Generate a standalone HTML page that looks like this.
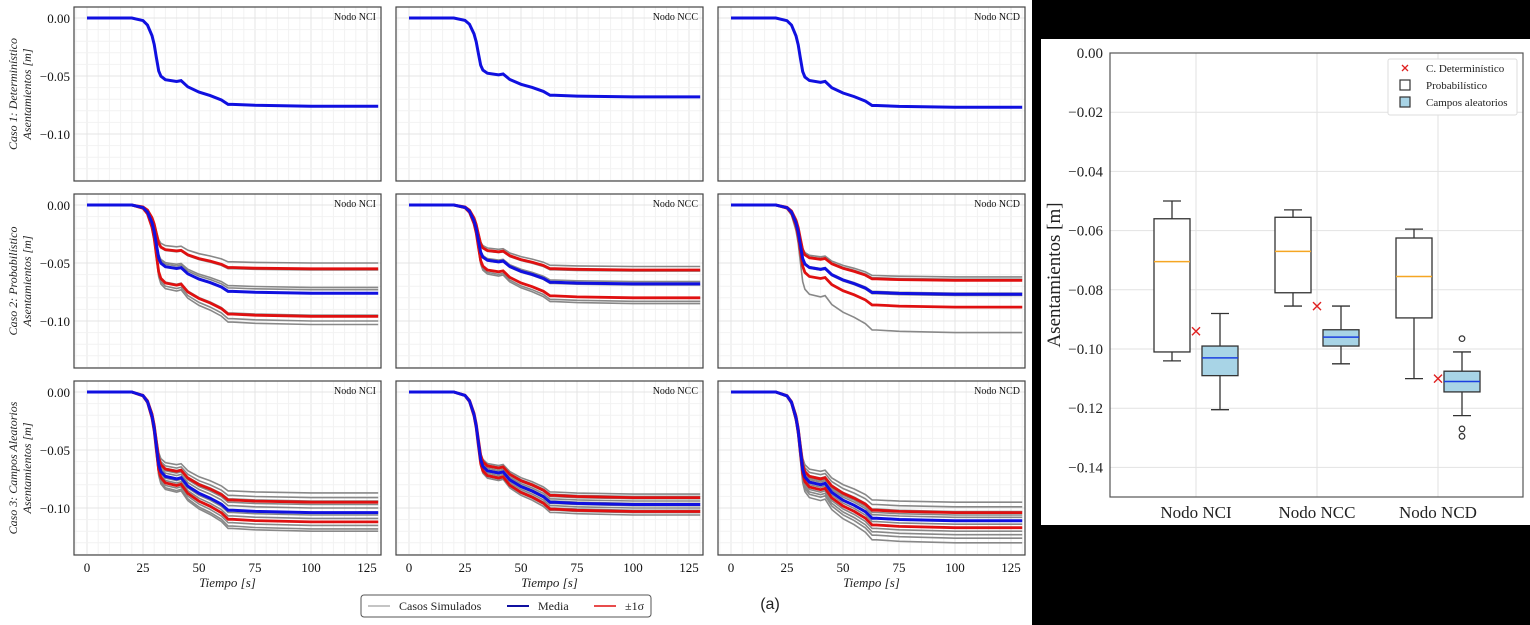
<!DOCTYPE html>
<html><head><meta charset="utf-8"><style>
body{margin:0;width:1530px;height:625px;overflow:hidden;background:#fff;font-family:"Liberation Serif",serif}
svg{position:absolute;left:0;top:0}
</style></head><body>
<svg id="fig" width="1530" height="625" viewBox="0 0 1530 625" xmlns="http://www.w3.org/2000/svg">
<rect x="1032" y="0" width="498" height="625" fill="#000"/>
<rect x="1041" y="39" width="489" height="486" fill="#fff"/>
</svg>
<script>
const NS="http://www.w3.org/2000/svg";
const svg=document.getElementById('fig');
function mk(tag,attrs,parent){const e=document.createElementNS(NS,tag);for(const k in attrs)e.setAttribute(k,attrs[k]);(parent||svg).appendChild(e);return e;}

// ---------- time series data ----------
const shapeT=[0,20,25,27,29,30,31,32,33,35,40,42,45,50,55,60,63,65,75,100,130];
const shapeF=[0,0,0.03,0.08,0.2,0.3,0.45,0.6,0.66,0.7,0.72,0.71,0.78,0.84,0.88,0.93,0.98,0.98,0.99,1,1];
const panelNames=[["NCI","NCC","NCD"],["NCI","NCC","NCD"],["NCI","NCC","NCD"]];
const meanFinal=[[-0.076,-0.068,-0.077],[-0.076,-0.068,-0.077],[-0.104,-0.097,-0.111]];
const sigUpFinal=[[null,null,null],[-0.055,-0.056,-0.065],[-0.095,-0.091,-0.104]];
const sigDnFinal=[[null,null,null],[-0.096,-0.080,-0.088],[-0.112,-0.103,-0.117]];
const greyFinals=[[[],[],[]],
 [[-0.050,-0.056,-0.071,-0.073,-0.095,-0.100,-0.103],[-0.053,-0.057,-0.066,-0.069,-0.080,-0.083,-0.085],[-0.062,-0.064,-0.076,-0.078,-0.088,-0.110]],
 [[-0.087,-0.091,-0.094,-0.097,-0.100,-0.104,-0.106,-0.109,-0.112,-0.115,-0.118,-0.120],[-0.088,-0.090,-0.092,-0.094,-0.096,-0.098,-0.100,-0.102,-0.104,-0.106],[-0.095,-0.099,-0.103,-0.106,-0.108,-0.111,-0.114,-0.117,-0.120,-0.123,-0.126,-0.130]]];
const xTicks=[0,25,50,75,100,125];
const yTicks=[0,-0.05,-0.10];
const yTickLabels=["0.00","−0.05","−0.10"];
const rowLabels=[["Caso 1: Determinístico","Asentamientos [m]"],["Caso 2: Probabilístico","Asentamientos [m]"],["Caso 3: Campos Aleatorios","Asentamientos [m]"]];

const colX=[74,396,718], rowY=[7,194,381], PW=307, PH=174;
function sx(c,t){return colX[c]+13+t*2.24;}
function sy(r,v){return rowY[r]+11+(-v)*1160;}

for(let r=0;r<3;r++){for(let c=0;c<3;c++){
  const g=mk('g',{});
  
  
  for(let t=-5;t<=135;t+=5){const x=sx(c,t);if(x<=colX[c]||x>=colX[c]+PW)continue;
    mk('line',{x1:x,x2:x,y1:rowY[r],y2:rowY[r]+PH,stroke:t%25==0?'#e4e4e4':'#f2f2f2','stroke-width':1},g);}
  for(let v=0.01;v>=-0.14;v-=0.01){const y=sy(r,v);if(y<=rowY[r]||y>=rowY[r]+PH)continue;
    mk('line',{x1:colX[c],x2:colX[c]+PW,y1:y,y2:y,stroke:Math.abs((v*100)%5)<0.01?'#e4e4e4':'#f2f2f2','stroke-width':1},g);}
  const pts=f=>shapeT.map((t,i)=>sx(c,t).toFixed(1)+','+sy(r,shapeF[i]*f).toFixed(1)).join(' ');
  greyFinals[r][c].forEach(f=>{const l=mk('polyline',{points:pts(f),fill:'none',stroke:'#888','stroke-width':1.6},g);
    });
  if(sigUpFinal[r][c]!==null){[sigUpFinal[r][c],sigDnFinal[r][c]].forEach(f=>{const l=mk('polyline',{points:pts(f),fill:'none',stroke:'#e01010','stroke-width':2.8},g);
    });}
  const m=mk('polyline',{points:pts(meanFinal[r][c]),fill:'none',stroke:'#1010e0','stroke-width':3},g);
  
  mk('rect',{x:colX[c],y:rowY[r],width:PW,height:PH,fill:'none',stroke:'#444','stroke-width':1.2},g);
  const tl=mk('text',{x:colX[c]+PW-5,y:rowY[r]+13,'text-anchor':'end','font-size':10,fill:'#111'},g);tl.textContent='Nodo '+panelNames[r][c];
  
  if(c==0){yTicks.forEach((v,i)=>{const t=mk('text',{x:colX[0]-4,y:sy(r,v)+5,'text-anchor':'end','font-size':13,fill:'#111'},g);t.textContent=yTickLabels[i];
    });
    const cy=rowY[r]+PH/2;
    const a=mk('text',{transform:`translate(17,${cy}) rotate(-90)`,'text-anchor':'middle','font-size':12,'font-style':'italic',fill:'#222'},g);a.textContent=rowLabels[r][0];
    
    const b=mk('text',{transform:`translate(31,${cy}) rotate(-90)`,'text-anchor':'middle','font-size':12,'font-style':'italic',fill:'#222'},g);b.textContent=rowLabels[r][1];
    }
  if(r==2){xTicks.forEach(t=>{const e=mk('text',{x:sx(c,t),y:rowY[r]+PH+17,'text-anchor':'middle','font-size':13,fill:'#111'},g);e.textContent=t;
    });
    const xt=mk('text',{x:colX[c]+PW/2,y:rowY[r]+PH+32,'text-anchor':'middle','font-size':13,'font-style':'italic',fill:'#222'},g);xt.textContent='Tiempo [s]';
    }
}}
const lg=mk('g',{});
mk('rect',{x:361,y:595,width:290,height:22,rx:3,fill:'#fff',stroke:'#555','stroke-width':1},lg);
[['Casos Simulados','#888',1,'legend-simulated',368],['Media','#1010a0',2,'legend-mean',507],['±1σ','#e01010',1.5,'legend-sigma',594]].forEach(d=>{
  mk('line',{x1:d[4],x2:d[4]+22,y1:606,y2:606,stroke:d[1],'stroke-width':d[2]},lg);
  const t=mk('text',{x:d[4]+31,y:610,'font-size':12,fill:'#222'},lg);t.textContent=d[0];
  });
const aa=mk('text',{x:770,y:609,'text-anchor':'middle','font-size':16,'font-family':'Liberation Sans, sans-serif',fill:'#222'});aa.textContent='(a)';


// ---------- box plot data ----------
const nodes=["Nodo NCI","Nodo NCC","Nodo NCD"];
const probStats=[[-0.104,-0.101,-0.0705,-0.056,-0.050],[-0.0855,-0.081,-0.067,-0.0555,-0.053],[-0.110,-0.0895,-0.0755,-0.0625,-0.0595]];
const campStats=[[-0.1205,-0.109,-0.103,-0.099,-0.088],[-0.105,-0.099,-0.096,-0.0935,-0.0855],[-0.1225,-0.1145,-0.111,-0.1075,-0.101]];
const detVals=[-0.094,-0.0855,-0.110];
const campOutliers=[[],[],[-0.0965,-0.127,-0.1295]];
const bTicks=[0,-0.02,-0.04,-0.06,-0.08,-0.10,-0.12,-0.14];
const bTickLabels=["0.00","−0.02","−0.04","−0.06","−0.08","−0.10","−0.12","−0.14"];
const BX0=1110,BX1=1523,BY0=53,BY1=497;
function by(v){return BY0+(-v)/0.15*(BY1-BY0);}
function bx(i){return 1196+i*121;}
const bg=mk('g',{});
bTicks.forEach((v,i)=>{mk('line',{x1:BX0,x2:BX1,y1:by(v),y2:by(v),stroke:'#e2e2e2'},bg);
  const t=mk('text',{x:BX0-7,y:by(v)+5,'text-anchor':'end','font-size':15,fill:'#222'},bg);t.textContent=bTickLabels[i];
  });
nodes.forEach((n,i)=>{mk('line',{x1:bx(i),x2:bx(i),y1:BY0,y2:BY1,stroke:'#e2e2e2'},bg);
  const t=mk('text',{x:bx(i),y:BY1+21,'text-anchor':'middle','font-size':17,fill:'#222'},bg);t.textContent=n;
  });
function box(cx,s,fill,medc,name){const g=mk('g',{},bg);
  const hw=18;
  mk('line',{x1:cx,x2:cx,y1:by(s[4]),y2:by(s[3]),stroke:'#333','stroke-width':1.3},g);
  mk('line',{x1:cx,x2:cx,y1:by(s[1]),y2:by(s[0]),stroke:'#333','stroke-width':1.3},g);
  mk('line',{x1:cx-9,x2:cx+9,y1:by(s[4]),y2:by(s[4]),stroke:'#333','stroke-width':1.3},g);
  mk('line',{x1:cx-9,x2:cx+9,y1:by(s[0]),y2:by(s[0]),stroke:'#333','stroke-width':1.3},g);
  mk('rect',{x:cx-hw,y:by(s[3]),width:2*hw,height:by(s[1])-by(s[3]),fill:fill,stroke:'#333','stroke-width':1.3},g);
  mk('line',{x1:cx-hw,x2:cx+hw,y1:by(s[2]),y2:by(s[2]),stroke:medc,'stroke-width':1.5},g);}
nodes.forEach((n,i)=>{
  box(bx(i)-24,probStats[i],'#fff','#f5a623','prob-box-'+i);
  box(bx(i)+24,campStats[i],'#a8d4e6','#1a3fe0','campos-box-'+i);
  campOutliers[i].forEach(v=>{const o=mk('circle',{cx:bx(i)+24,cy:by(v),r:2.8,fill:'none',stroke:'#333','stroke-width':1.2},bg);
    });
  const y=by(detVals[i]),x=bx(i);
  const d=mk('path',{d:`M${x-4},${y-4}L${x+4},${y+4}M${x-4},${y+4}L${x+4},${y-4}`,stroke:'#e02020','stroke-width':1.4},bg);
  });
mk('rect',{x:BX0,y:BY0,width:BX1-BX0,height:BY1-BY0,fill:'none',stroke:'#555','stroke-width':1.2},bg);
const yl=mk('text',{transform:`translate(1060,${(BY0+BY1)/2}) rotate(-90)`,'text-anchor':'middle','font-size':19,fill:'#222'},bg);yl.textContent='Asentamientos [m]';

const bl=mk('g',{},bg);
mk('rect',{x:1388,y:59,width:129,height:56,rx:2,fill:'#fff',stroke:'#ddd'},bl);
mk('path',{d:'M1402,65L1408,71M1402,71L1408,65',stroke:'#e02020','stroke-width':1.3},bl);
mk('rect',{x:1400,y:80,width:10,height:10,fill:'#fff',stroke:'#333','stroke-width':1.2},bl);
mk('rect',{x:1400,y:97,width:10,height:10,fill:'#a8d4e6',stroke:'#333','stroke-width':1.2},bl);
[['C. Determinístico',72],['Probabilístico',89],['Campos aleatorios',106]].forEach(d=>{const t=mk('text',{x:1426,y:d[1],'font-size':11,fill:'#222'},bl);t.textContent=d[0];
  });
</script>
</body></html>
